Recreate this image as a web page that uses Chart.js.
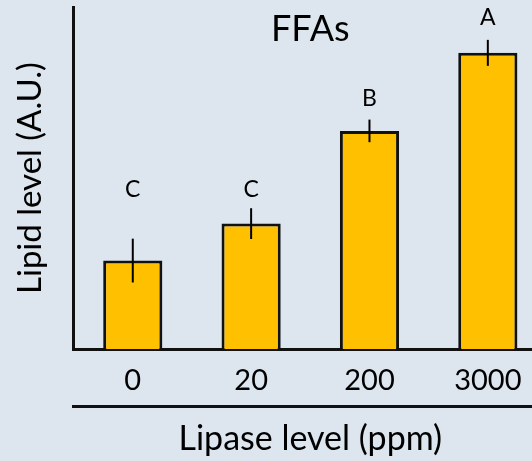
<!DOCTYPE html>
<html>
<head>
<meta charset="utf-8">
<script src="https://cdn.jsdelivr.net/npm/chart.js@4.4.0/dist/chart.umd.min.js"></script>
<style>
  html, body { margin: 0; padding: 0; background: #dde6ef; overflow: hidden; }
  #wrap { width: 560px; height: 461px; }
</style>
</head>
<body>
<div id="wrap"><canvas id="lipidChart" width="560" height="461"></canvas></div>
<script>
const categories = ['0', '20', '200', '3000'];
const lipidLevel = [2.59, 3.67, 6.38, 8.66];
const lipidErr = [0.64, 0.45, 0.33, 0.38];
const groupLetters = ['C', 'C', 'B', 'A'];

const FONT = 'Lato, "Liberation Sans", sans-serif';

// error bars, significance letters and the in-plot title
const extras = {
  id: 'extras',
  afterDatasetsDraw(chart, args, opts) {
    const { ctx, chartArea } = chart;
    const x = chart.scales.x, y = chart.scales.y;
    ctx.save();
    ctx.strokeStyle = '#000';
    ctx.lineWidth = 2;
    lipidLevel.forEach((v, i) => {
      const px = x.getPixelForValue(i);
      ctx.beginPath();
      ctx.moveTo(px, y.getPixelForValue(v + lipidErr[i]));
      ctx.lineTo(px, y.getPixelForValue(v - lipidErr[i]));
      ctx.stroke();
    });
    ctx.fillStyle = '#000';
    ctx.textAlign = 'center';
    ctx.textBaseline = 'middle';
    ctx.font = '23px ' + FONT;
    groupLetters.forEach((t, i) => {
      ctx.fillText(t, x.getPixelForValue(i), y.getPixelForValue(opts.letterAt[i]));
    });
    ctx.font = '36px ' + FONT;
    ctx.fillText('FFAs', (chartArea.left + chartArea.right) / 2, 29);
    ctx.restore();
  }
};

new Chart(document.getElementById('lipidChart').getContext('2d'), {
  type: 'bar',
  data: {
    labels: categories,
    datasets: [{
      label: 'FFAs',
      data: lipidLevel,
      backgroundColor: '#ffc000',
      borderColor: '#111',
      borderWidth: 3,
      categoryPercentage: 1,
      barPercentage: 0.5,
      xAxisID: 'x'
    }]
  },
  options: {
    responsive: false,
    animation: false,
    layout: { padding: { top: 7, right: 13, bottom: 1, left: 0 } },
    plugins: {
      legend: { display: false },
      tooltip: { enabled: false },
      extras: { letterAt: [4.66, 4.66, 7.32, 9.68] }
    },
    scales: {
      x: {
        position: 'bottom',
        grid: { display: false, drawTicks: false },
        border: { display: true, color: '#111', width: 3 },
        ticks: { color: '#000', padding: 14, font: { family: FONT, size: 29 } },
        afterFit: s => { s.height = 57; }
      },
      x2: {
        type: 'category',
        labels: categories,
        position: 'bottom',
        grid: { display: false, drawTicks: false },
        border: { display: true, color: '#111', width: 3 },
        ticks: { display: false },
        title: {
          display: true,
          text: 'Lipase level (ppm)',
          color: '#000',
          font: { family: FONT, size: 34 },
          padding: { top: 12, bottom: 1 }
        }
      },
      y: {
        min: 0,
        max: 10,
        grid: { display: false, drawTicks: false },
        border: { display: true, color: '#111', width: 3 },
        ticks: { display: false },
        title: {
          display: true,
          text: 'Lipid level (A.U.)',
          color: '#000',
          font: { family: FONT, size: 33 },
          padding: { top: 11, bottom: 23 }
        }
      }
    }
  },
  plugins: [extras]
});
</script>
</body>
</html>
